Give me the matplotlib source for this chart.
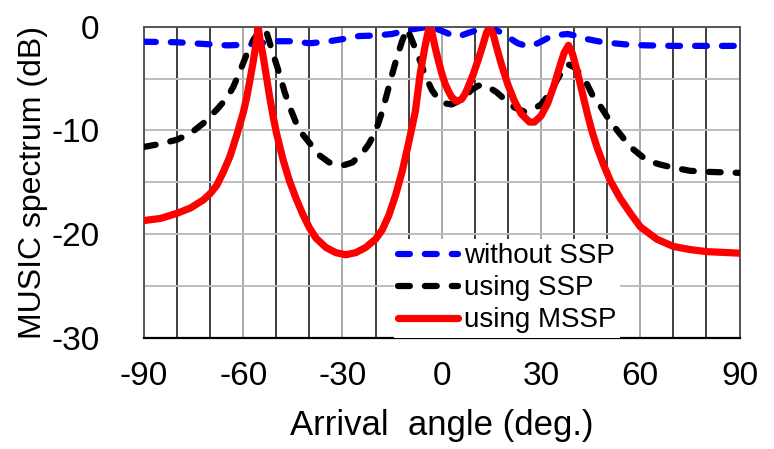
import matplotlib
matplotlib.use("Agg")
import matplotlib.pyplot as plt
from matplotlib.ticker import MultipleLocator

plt.rcParams["font.family"] = ["Liberation Sans", "DejaVu Sans"]
plt.rcParams["axes.unicode_minus"] = False

# MUSIC spectrum without spatial smoothing (dB)
angle_plain = [-90, -80, -70, -65, -60, -55, -50, -45, -40, -35, -30, -25, -20,
               -15, -10, -6, -3, 0, 3, 5, 8, 11, 14, 17, 20, 23, 26, 29, 32, 35,
               38, 41, 44, 48, 52, 57, 62, 70, 80, 90]
spec_plain = [-1.45, -1.5, -1.7, -1.8, -1.75, -1.6, -1.4, -1.4, -1.6, -1.45,
              -1.2, -0.9, -0.85, -0.7, -0.3, -0.1, -0.05, -0.4, -0.8, -0.95,
              -0.6, -0.3, 0.0, -0.4, -1.0, -1.6, -1.9, -1.6, -1.1, -0.8, -0.7,
              -0.9, -1.2, -1.45, -1.6, -1.75, -1.8, -1.85, -1.85, -1.85]

# MUSIC spectrum with spatial smoothing (SSP)
angle_ssp = [-90, -85, -80, -76, -72, -68, -65, -63, -61, -59, -57, -55, -54,
             -53, -51, -49, -47.5, -46, -44, -42, -40, -37, -34, -30, -27, -24,
             -22, -20, -18, -16.5, -15, -13.5, -12, -10.5, -9, -7, -5, -3, -1,
             1, 3, 5, 7, 9, 11, 12.5, 14, 16.5, 19, 22, 25, 27.5, 30, 32, 34,
             36, 38, 40, 42, 44, 46, 48, 50, 53, 57, 62, 66, 70, 75, 80, 90]
spec_ssp = [-11.6, -11.3, -10.9, -10.3, -9.3, -8.0, -6.9, -5.8, -4.3, -2.7,
            -1.3, -0.4, 0.0, -0.5, -2.6, -4.6, -6.3, -7.7, -9.3, -10.4, -11.2,
            -12.4, -13.1, -13.4, -13.1, -12.2, -11.3, -10.1, -8.2, -6.4, -4.6,
            -2.9, -1.4, -0.2, -1.3, -2.9, -4.7, -6.1, -7.0, -7.4, -7.5, -7.2,
            -6.7, -6.1, -5.7, -5.6, -5.8, -6.3, -7.0, -7.8, -8.2, -8.0, -7.5,
            -6.7, -5.6, -4.5, -3.6, -3.9, -4.6, -5.6, -6.9, -7.7, -8.7, -10.0,
            -11.6, -12.9, -13.3, -13.6, -13.9, -14.0, -14.1]

# MUSIC spectrum with modified spatial smoothing (MSSP)
angle_mssp = [-90, -85, -80, -76, -72, -70, -68, -66, -64, -62, -60, -59, -58,
              -57, -56, -55.5, -55, -54, -53, -52, -51, -50, -48, -46, -44, -42,
              -40, -38, -35, -32, -29, -26, -23, -20, -18, -16, -14, -12, -10,
              -8, -6.5, -5, -4, -3.7, -3, -2, -1, 0, 1, 2, 3, 4.5, 6, 7, 8, 9.5,
              11, 12.5, 13.5, 14.5, 15.5, 16.5, 18, 20, 22, 24, 26.5, 28, 30, 32,
              34, 35.5, 37, 38.3, 39.5, 41, 42.5, 44, 45.5, 47, 49, 51, 54, 57,
              60, 65, 70, 75, 80, 90]
spec_mssp = [-18.7, -18.5, -18.0, -17.5, -16.7, -16.1, -15.3, -14.0, -12.5,
             -10.5, -8.3, -6.9, -5.2, -3.4, -1.4, 0.0, -1.1, -2.8, -4.8, -6.8,
             -8.6, -10.2, -12.8, -14.9, -16.6, -18.1, -19.4, -20.4, -21.3,
             -21.8, -22.0, -21.8, -21.3, -20.5, -19.6, -18.2, -16.3, -14.0,
             -11.2, -8.2, -4.5, -1.8, -0.3, 0.0, -0.5, -2.0, -3.3, -4.5, -5.5,
             -6.2, -6.8, -7.2, -7.0, -6.5, -5.8, -4.6, -3.2, -1.7, -0.6, 0.0,
             -0.7, -1.9, -3.6, -5.6, -7.2, -8.4, -9.2, -9.2, -8.6, -7.4, -5.6,
             -4.0, -2.5, -1.8, -2.6, -4.4, -6.4, -8.4, -10.2, -11.7, -13.4,
             -14.9, -16.6, -18.0, -19.3, -20.5, -21.2, -21.5, -21.7, -21.85]

x_ticks = [-90, -60, -30, 0, 30, 60, 90]
y_ticks = [-30, -20, -10, 0]

fig = plt.figure(figsize=(7.74, 4.49), dpi=100)
ax = fig.add_axes([0.186, 0.248, 0.7695, 0.6925])

dash = (1.9, 2.4)
ax.plot(angle_plain, spec_plain, color="#0000ff", lw=4.5, dashes=dash,
        dash_capstyle="round", label="without SSP", zorder=3)
ax.plot(angle_ssp, spec_ssp, color="black", lw=4.5, dashes=dash,
        dash_capstyle="round", label="using SSP", zorder=4)
ax.plot(angle_mssp, spec_mssp, color="#ff0000", lw=5.2,
        solid_capstyle="round", label="using MSSP", zorder=5)

ax.set_xlim(-90, 90)
ax.set_ylim(-30, 0)
ax.set_xticks(x_ticks)
ax.set_yticks(y_ticks)
ax.xaxis.set_minor_locator(MultipleLocator(10))
ax.yaxis.set_minor_locator(MultipleLocator(5))
ax.tick_params(which="both", length=0)
ax.tick_params(axis="x", labelsize=24, pad=17)
ax.tick_params(axis="y", labelsize=24, pad=32)

ax.grid(axis="x", which="minor", color="#1e1e1e", lw=1.2)
ax.grid(axis="x", which="major", color="#a8a8a8", lw=1.4)
ax.grid(axis="y", which="both", color="#bdbdbd", lw=1.4)
ax.set_axisbelow(True)

for side in ("left", "right", "top"):
    ax.spines[side].set_color("#555555")
    ax.spines[side].set_linewidth(1.4)
ax.spines["bottom"].set_color("black")
ax.spines["bottom"].set_linewidth(1.6)

ax.set_xlabel("Arrival  angle (deg.)", fontsize=25, labelpad=12)
ax.set_ylabel("MUSIC spectrum (dB)", fontsize=23, labelpad=2)

leg = ax.legend(loc="lower left", bbox_to_anchor=(0.42, 0.0), fontsize=20,
                frameon=True, fancybox=False, borderaxespad=0, borderpad=0.15,
                handlelength=2.15, handletextpad=0.2, labelspacing=0.22)
leg.get_frame().set_facecolor("white")
leg.get_frame().set_edgecolor("none")
leg.get_frame().set_alpha(1)
leg.set_zorder(6)

fig.savefig("out.png", dpi=100)
